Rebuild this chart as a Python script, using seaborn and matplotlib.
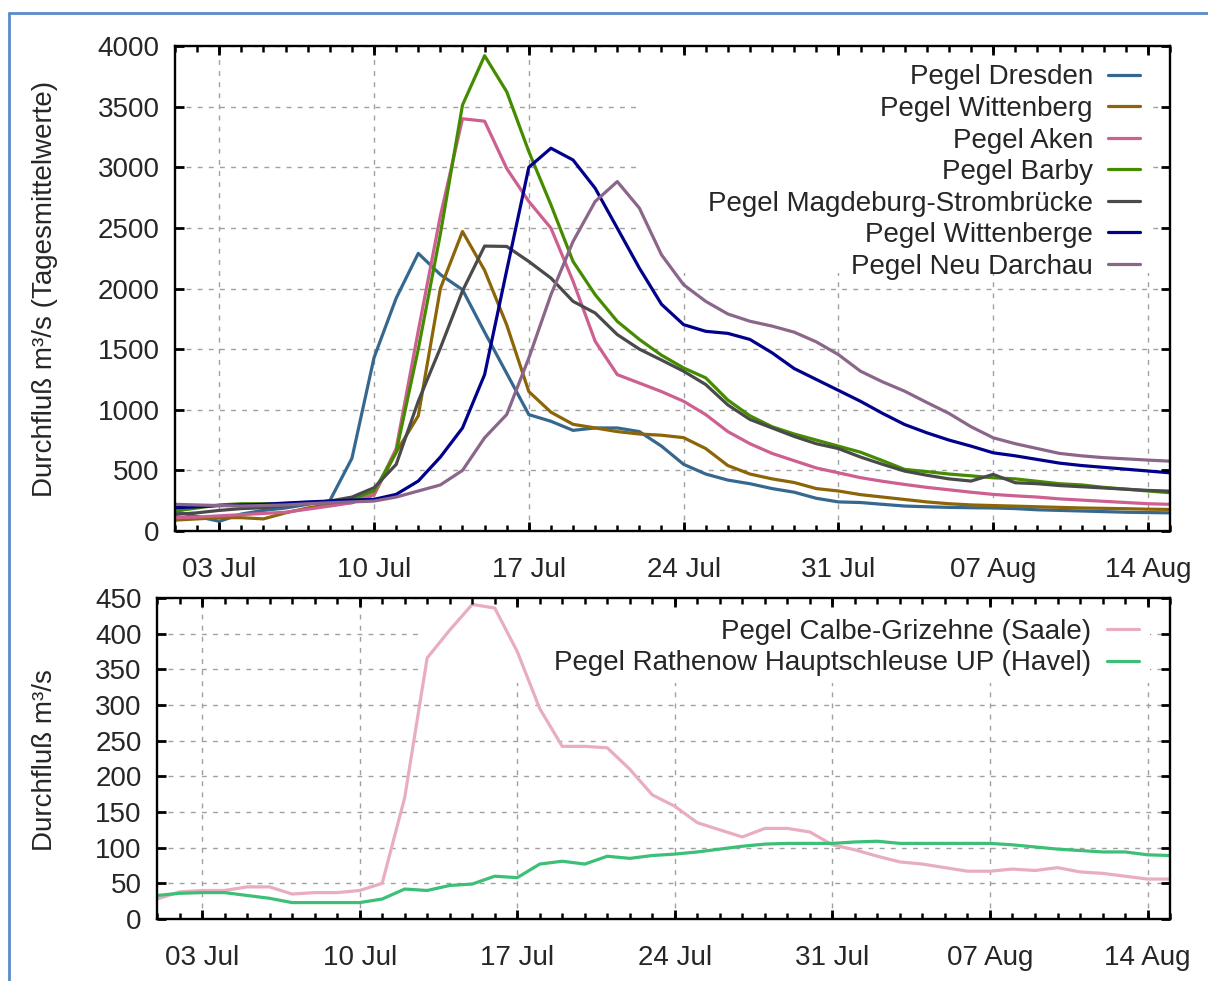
import pandas as pd
import seaborn as sns
import matplotlib.pyplot as plt
import matplotlib.dates as mdates
from matplotlib.ticker import FixedLocator
from matplotlib.lines import Line2D
from matplotlib.patches import Rectangle

# Tagesmittelwerte 01 Jul - 15 Aug
days = pd.date_range("2000-07-01", "2000-08-15", freq="D")

dresden = [160, 120, 80, 140, 170, 190, 220, 250, 600, 1430,
           1920, 2290, 2115, 1990, 1640, 1300, 960, 905, 830, 850,
           850, 820, 700, 550, 470, 420, 390, 350, 320, 270,
           240, 235, 220, 206, 200, 195, 192, 190, 185, 175,
           170, 165, 160, 155, 152, 150]
wittenberg = [90, 100, 110, 110, 100, 150, 190, 220, 235, 300,
              650, 950, 2000, 2470, 2150, 1700, 1150, 980, 880, 850,
              820, 800, 790, 770, 680, 540, 470, 430, 400, 350,
              330, 300, 280, 260, 240, 225, 215, 210, 205, 200,
              195, 190, 187, 184, 180, 178]
aken = [110, 115, 125, 135, 145, 155, 180, 206, 233, 300,
        680, 1650, 2600, 3400, 3380, 2990, 2718, 2498, 2060, 1565,
        1290, 1220, 1150, 1070, 960, 820, 720, 640, 580, 520,
        480, 440, 410, 384, 360, 340, 320, 302, 290, 280,
        265, 255, 245, 235, 225, 220]
barby = [165, 190, 215, 225, 225, 228, 230, 233, 260, 330,
         650, 1500, 2450, 3513, 3920, 3623, 3129, 2690, 2223, 1949,
         1729, 1580, 1450, 1345, 1263, 1080, 950, 860, 800, 750,
         700, 650, 580, 508, 490, 470, 455, 439, 430, 410,
         390, 380, 360, 345, 330, 316]
magdeburg = [137, 150, 170, 185, 192, 210, 230, 247, 280, 357,
             549, 1070, 1510, 1980, 2350, 2347, 2223, 2086, 1894, 1798,
             1620, 1500, 1410, 1318, 1208, 1040, 920, 850, 780, 720,
             680, 610, 550, 494, 460, 430, 412, 467, 398, 390,
             375, 365, 355, 345, 335, 329]
wittenberge = [192, 200, 210, 215, 220, 230, 240, 247, 255, 261,
               302, 412, 610, 850, 1290, 2150, 3000, 3157, 3060, 2827,
               2498, 2168, 1870, 1702, 1647, 1630, 1580, 1470, 1340, 1250,
               1160, 1070, 970, 878, 810, 750, 700, 645, 620, 590,
               560, 540, 525, 510, 495, 480]
neu_darchau = [220, 215, 210, 206, 210, 215, 225, 233, 240, 247,
               280, 330, 380, 500, 769, 961, 1427, 1949, 2388, 2718,
               2882, 2663, 2278, 2031, 1894, 1790, 1730, 1690, 1640, 1560,
               1455, 1318, 1230, 1153, 1060, 970, 860, 769, 720, 680,
               640, 620, 605, 595, 585, 576]

calbe = [28, 38, 40, 40, 45, 45, 35, 37, 37, 40,
         50, 170, 366, 405, 441, 436, 375, 295, 242, 242,
         240, 210, 174, 158, 135, 125, 115, 127, 127, 122,
         104, 97, 88, 80, 77, 72, 67, 67, 70, 68,
         72, 66, 64, 60, 56, 56]
rathenow = [33, 36, 37, 37, 33, 29, 23, 23, 23, 23,
            28, 42, 40, 47, 49, 60, 58, 77, 81, 77,
            88, 85, 89, 91, 94, 98, 102, 105, 106, 106,
            106, 108, 109, 106, 106, 106, 106, 106, 104, 101,
            98, 96, 94, 94, 90, 89]

top_series = [
    ("Pegel Dresden", dresden, "#36688f"),
    ("Pegel Wittenberg", wittenberg, "#8b6508"),
    ("Pegel Aken", aken, "#cd6090"),
    ("Pegel Barby", barby, "#458b00"),
    ("Pegel Magdeburg-Strombrücke", magdeburg, "#4a4a4a"),
    ("Pegel Wittenberge", wittenberge, "#00008b"),
    ("Pegel Neu Darchau", neu_darchau, "#8b668b"),
]
bottom_series = [
    ("Pegel Calbe-Grizehne (Saale)", calbe, "#e8aec0"),
    ("Pegel Rathenow Hauptschleuse UP (Havel)", rathenow, "#3cbf77"),
]

tick_dates = pd.to_datetime(["2000-07-03", "2000-07-10", "2000-07-17", "2000-07-24",
                             "2000-07-31", "2000-08-07", "2000-08-14"])
tick_labels = ["03 Jul", "10 Jul", "17 Jul", "24 Jul", "31 Jul", "07 Aug", "14 Aug"]

sns.set_style("ticks")
plt.rcParams["font.family"] = ["Liberation Sans", "DejaVu Sans"]
plt.rcParams["font.size"] = 20

W, H = 1208, 981
fig = plt.figure(figsize=(W / 100, H / 100), dpi=100)
ax1 = fig.add_axes([0.1449, 0.4587, 0.8237, 0.4944])
ax2 = fig.add_axes([0.1300, 0.0632, 0.8386, 0.3272])


def style_axis(ax, ymax, ystep):
    ax.set_xlim(days[0], days[-1])
    ax.set_ylim(0, ymax)
    yticks = list(range(0, ymax + 1, ystep))
    ax.set_yticks(yticks)
    ax.set_xticks(tick_dates)
    ax.set_xticklabels(tick_labels)
    ax.xaxis.set_minor_locator(FixedLocator(mdates.date2num(days)))
    ax.grid(True, which="major", color="#a0a0a0", linestyle=(0, (3.5, 4.5)), linewidth=1.0)
    ax.tick_params(axis="both", which="both", direction="in", top=True, right=True,
                   labelsize=20, length=0)
    ax.tick_params(axis="x", which="major", pad=19)
    ax.tick_params(axis="y", which="major", pad=11)
    for sp in ax.spines.values():
        sp.set_linewidth(1.7)
        sp.set_color("black")
    ax.set_xlabel("")

    # inward tick marks on all four sides (gnuplot style)
    pos = ax.get_position()
    hx = 9 / (pos.height * H)     # major tick length as axes fraction (vertical)
    hm = 6 / (pos.height * H)     # minor tick length
    wy = 9 / (pos.width * W)      # y tick length as axes fraction (horizontal)
    xt = ax.get_xaxis_transform()
    yt = ax.get_yaxis_transform()
    kw = dict(colors="black", zorder=2.4, clip_on=False)
    ax.vlines(days, 0, hm, transform=xt, lw=1.8, **kw)
    ax.vlines(days, 1 - hm, 1, transform=xt, lw=1.8, **kw)
    ax.vlines(tick_dates, 0, hx, transform=xt, lw=2, **kw)
    ax.vlines(tick_dates, 1 - hx, 1, transform=xt, lw=2, **kw)
    ax.hlines(yticks, 0, wy, transform=yt, lw=2, **kw)
    ax.hlines(yticks, 1 - wy, 1, transform=yt, lw=2, **kw)


for name, vals, col in top_series:
    sns.lineplot(x=days, y=vals, ax=ax1, color=col, lw=2.3, label=name)
for name, vals, col in bottom_series:
    sns.lineplot(x=days, y=vals, ax=ax2, color=col, lw=2.3, label=name)

style_axis(ax1, 4000, 500)
style_axis(ax2, 450, 50)

# white key area hides the grid (like gnuplot)
ax1.add_patch(Rectangle((0.464, 0.532), 0.519, 0.468, transform=ax1.transAxes,
                        facecolor="white", edgecolor="none", zorder=1))
ax2.add_patch(Rectangle((0.26, 0.735), 0.72, 0.265, transform=ax2.transAxes,
                        facecolor="white", edgecolor="none", zorder=1))

ax1.set_ylabel("Durchfluß m³/s (Tagesmittelwerte)", fontsize=20, va="center")
ax1.yaxis.set_label_coords(-0.131, 0.5)
ax2.set_ylabel("Durchfluß m³/s", fontsize=20, va="center")
ax2.yaxis.set_label_coords(-0.111, 0.495)

leg_kw = dict(loc="upper right", markerfirst=False, frameon=False, fontsize=20,
              handlelength=1.15, handletextpad=0.55, labelspacing=0.2,
              borderpad=0, borderaxespad=0)
ax1.legend(bbox_to_anchor=(0.970, 0.962), **leg_kw)
ax2.legend(bbox_to_anchor=(0.969, 0.935), **leg_kw)

# blue frame of the picture
fig.add_artist(Line2D([9 / W, 1], [1 - 13 / H, 1 - 13 / H], color="#5b8bcb", lw=2))
fig.add_artist(Line2D([9 / W, 9 / W], [0, 1 - 13 / H], color="#5b8bcb", lw=2))

fig.savefig("out.png", dpi=100)
